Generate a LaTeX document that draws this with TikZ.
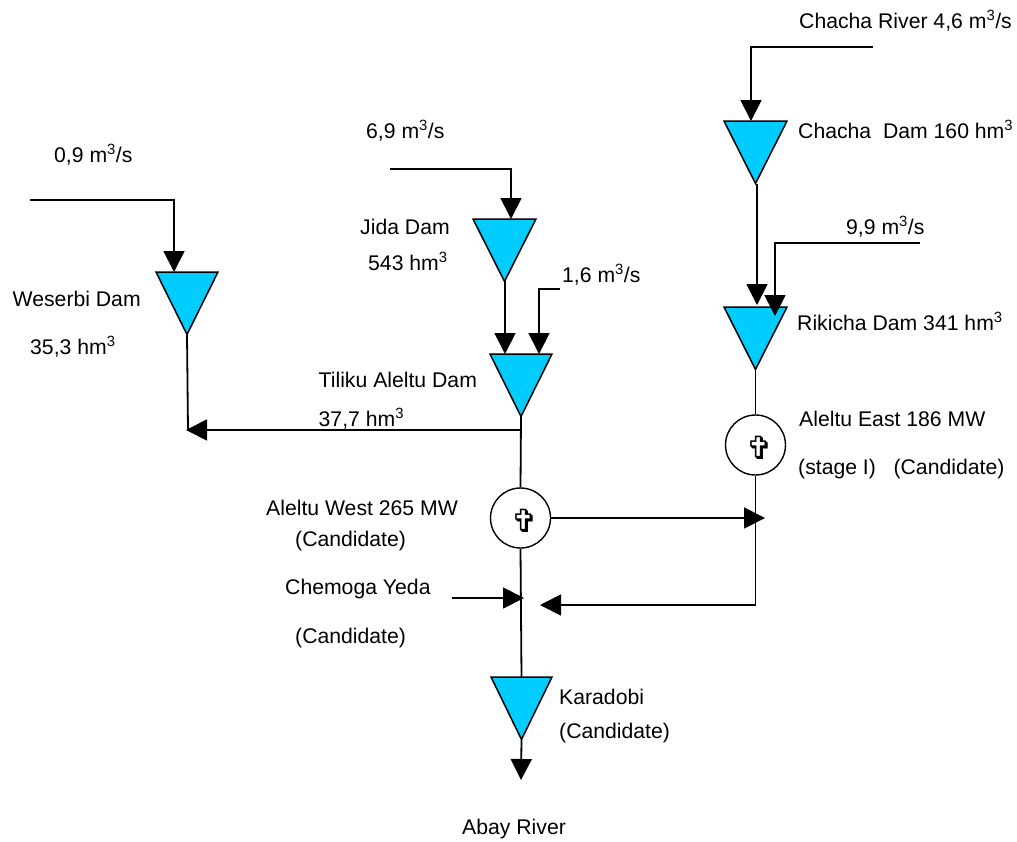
\documentclass[tikz,border=0pt]{standalone}
\usepackage{fontspec}
\setmainfont{Liberation Sans}
\newfontfamily\symfont{DejaVu Sans}
\usetikzlibrary{arrows.meta,calc}
\definecolor{damblue}{RGB}{0,204,255}
\tikzset{
 damtri/.style={draw=black,line width=1.5pt,fill=damblue},
 flow/.style={line width=1.8pt,-{Triangle[width=21pt,length=21pt]}},
 plainline/.style={line width=1.8pt},
 plant/.style={circle,draw=black,line width=1.4pt,fill=white,minimum size=60pt,inner sep=0pt,font=\symfont\fontsize{32}{32}\selectfont},
 lbl/.style={inner sep=0pt,anchor=base west,font=\fontsize{21.2}{24}\selectfont},
}
\newcommand{\dam}[4]{% name, left x, top y, right x ; apex centred
 \path[damtri] (#2,#3) -- (#4,#3) -- ({(#2+#4)/2},#3+62.5) -- cycle;
 \coordinate (#1top) at ({(#2+#4)/2},#3);
 \coordinate (#1apex) at ({(#2+#4)/2},#3+62.5);
}
\newcommand{\crossmark}{\raisebox{-14pt}[14pt][14pt]{\hspace{9pt}✞}}
\begin{document}
\begin{tikzpicture}[x=1pt,y=-1pt]
\useasboundingbox (0,0) rectangle (1017,841);
% dams
\dam{chacha}{724}{121}{787}
\dam{rikicha}{724}{307}{787}
\dam{jida}{473}{219}{536}
\dam{tiliku}{490}{354}{552}
\dam{weserbi}{156}{272}{218}
\dam{karadobi}{491}{677}{552}
% plants
\node[plant] (west) at (520.5,518) {\crossmark};
\node[plant] (east) at (755.5,445) {\crossmark};
% free ends
\coordinate (chachaS) at (873,47);
\coordinate (chachaC) at (751,47);
\coordinate (chachaE) at (751,121);
\coordinate (rikS) at (920,243);
\coordinate (rikC) at (775,243);
\coordinate (rikE) at (775,316);
\coordinate (caS) at (757,184);
\coordinate (caE) at (757,305);
\coordinate (jS) at (390,169);
\coordinate (jC) at (511,169);
\coordinate (jE) at (511,219);
\coordinate (jtS) at (505,281);
\coordinate (jtE) at (505,354);
\coordinate (oS) at (560,289);
\coordinate (oC) at (539,289);
\coordinate (oE) at (539,354);
\coordinate (wS) at (30,200);
\coordinate (wC) at (174,200);
\coordinate (wE) at (174,272);
\coordinate (wJ) at (188,430);
\coordinate (tJ) at (521,430);
\coordinate (wtip) at (186,430);
\coordinate (westR) at (765,518);
\coordinate (eC) at (755.5,605);
\coordinate (eE) at (540,605);
\coordinate (chS) at (452,598);
\coordinate (chE) at (524,598);
\coordinate (abay) at (521,780);
% connectors
\draw[flow] (chachaS) -- (chachaC) -- (chachaE);
\draw[flow] (caS) -- (caE);
\draw[flow] (rikS) -- (rikC) -- (rikE);
\draw[plainline] (rikichaapex) -- (east.north);
\draw[flow] (east.south) -- (eC) -- (eE);
\draw[flow] (west.east) -- (westR);
\draw[flow] (jS) -- (jC) -- (jE);
\draw[flow] (jtS) -- (jtE);
\draw[flow] (oS) -- (oC) -- (oE);
\draw[flow] (wS) -- (wC) -- (wE);
\draw[plainline] (weserbiapex) -- (wJ);
\draw[plainline] (tilikuapex) -- (west.north);
\draw[flow] (tJ) -- (wtip);
\draw[plainline] (west.south) -- (karadobitop);
\draw[flow] (chS) -- (chE);
\draw[flow] (karadobiapex) -- (abay);
% labels
\node[lbl] (l1) at (799,28) {Chacha River 4,6 m\textsuperscript{3}/s};
\node[lbl] (l2) at (798,138) {Chacha\ \ Dam 160 hm\textsuperscript{3}};
\node[lbl] (l3) at (846,234) {9,9 m\textsuperscript{3}/s};
\node[lbl] (l4) at (797,330) {Rikicha Dam 341 hm\textsuperscript{3}};
\node[lbl] (l5) at (799,426) {Aleltu East 186 MW};
\node[lbl] (l6) at (798,474) {(stage I)\ \ \ (Candidate)};
\node[lbl] (l7) at (366,138) {6,9 m\textsuperscript{3}/s};
\node[lbl] (l8) at (360,234) {Jida Dam};
\node[lbl] (l9) at (368,270) {543 hm\textsuperscript{3}};
\node[lbl] (l10) at (562,282) {1,6 m\textsuperscript{3}/s};
\node[lbl] (l11) at (54,162) {0,9 m\textsuperscript{3}/s};
\node[lbl] (l12) at (12.5,306) {Weserbi Dam};
\node[lbl] (l13) at (30,354) {35,3 hm\textsuperscript{3}};
\node[lbl] (l14) at (318.5,387) {Tiliku Aleltu Dam};
\node[lbl] (l15) at (318.5,426) {37,7 hm\textsuperscript{3}};
\node[lbl] (l16) at (266,515) {Aleltu West 265 MW};
\node[lbl] (l17) at (295,546) {(Candidate)};
\node[lbl] (l18) at (285,594) {Chemoga Yeda};
\node[lbl] (l19) at (295,643) {(Candidate)};
\node[lbl] (l20) at (559,704) {Karadobi};
\node[lbl] (l21) at (559,738) {(Candidate)};
\node[lbl] (l22) at (462,834) {Abay River};
\end{tikzpicture}
\end{document}
